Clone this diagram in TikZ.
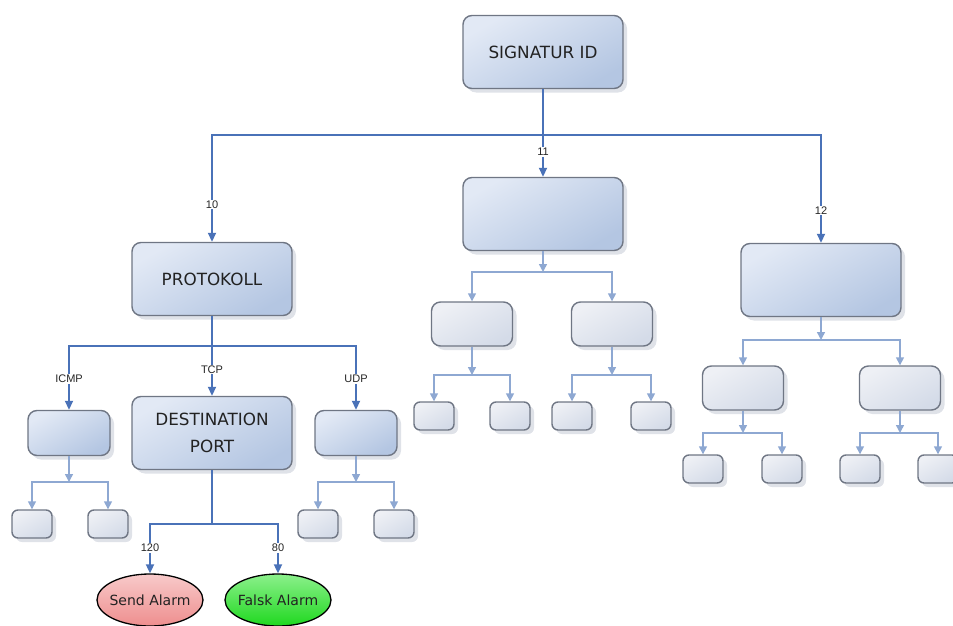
\documentclass[tikz,border=0pt]{standalone}
\usepackage{fontspec}
\setmainfont{DejaVu Sans}
\newfontfamily\lblfont{Liberation Sans}
\usetikzlibrary{arrows.meta,shapes.geometric,shadows}

\definecolor{linkdark}{HTML}{4A72B8}
\definecolor{linklight}{HTML}{8EA8D2}
\definecolor{boxedge}{HTML}{6F7684}
\definecolor{boxtop}{HTML}{E2E9F5}
\definecolor{boxbot}{HTML}{B4C6E2}
\definecolor{greytop}{HTML}{EEF0F5}
\definecolor{greybot}{HTML}{D4DBE8}
\definecolor{shadowc}{HTML}{C9CED9}
\definecolor{textgray}{HTML}{222222}
\definecolor{sendtop}{HTML}{F8CACA}
\definecolor{sendbot}{HTML}{EE8E8E}
\definecolor{falsktop}{HTML}{8CF08C}
\definecolor{falskbot}{HTML}{1FD81F}

\tikzset{
  box/.style = {rounded corners = 9pt, draw = boxedge, line width = 1.4pt,
    top color = boxtop, bottom color = boxbot, shading angle = 30,
    drop shadow = {shadow xshift = 4pt, shadow yshift = -4pt, fill = shadowc, opacity = .6},
    inner sep = 0pt, align = center, text = textgray,
    font = \fontsize{16.8}{27}\selectfont},
  bigbox/.style = {box, minimum width = 160pt, minimum height = 73pt},
  smallbox/.style = {box, minimum width = 82pt, minimum height = 45pt},
  greybox/.style = {box, top color = greytop, bottom color = greybot, shading angle = 30,
    minimum width = 81pt, minimum height = 44pt},
  leaf/.style = {greybox, rounded corners = 6pt, minimum width = 40pt, minimum height = 28pt},
  alarm/.style = {ellipse, draw = black, line width = 1.3pt, inner ysep = 0pt, inner xsep = -5pt,
    minimum width = 106pt, minimum height = 52pt, text = textgray,
    font = \fontsize{14}{16}\selectfont},
  darkline/.style = {draw = linkdark, line width = 1.8pt},
  darkarr/.style = {darkline, -{Triangle[length = 9pt, width = 8pt]}},
  lightarr/.style = {draw = linklight, line width = 1.5pt, -{Triangle[length = 8pt, width = 8pt]}},
  lbl/.style = {fill = white, inner sep = 1pt, text = black!85,
    font = \lblfont\fontsize{11}{13}\selectfont}
}

\begin{document}
\begin{tikzpicture}[x = 1pt, y = -1pt]
  \useasboundingbox (0,0) rectangle (953,626);

  % top level
  \node [bigbox] (sig) at (543,52) {SIGNATUR ID};
  \node [bigbox] (prot) at (212,279) {PROTOKOLL};
  \node [bigbox] (mid) at (543,214) {};
  \node [bigbox] (rgt) at (821,280) {};

  % protokoll branch
  \node [smallbox] (icmp) at (69,433) {};
  \node [bigbox] (dest) at (212,433) {DESTINATION\\PORT};
  \node [smallbox] (udp) at (356,433) {};
  \node [leaf] (icmpA) at (32,524) {};
  \node [leaf] (icmpB) at (108,524) {};
  \node [leaf] (udpA) at (318,524) {};
  \node [leaf] (udpB) at (394,524) {};
  \node [alarm, top color = sendtop, bottom color = sendbot] (send) at (150,600) {Send Alarm};
  \node [alarm, top color = falsktop, bottom color = falskbot] (falsk) at (278,600) {Falsk Alarm};

  % middle branch
  \node [greybox] (midA) at (472,324) {};
  \node [greybox] (midB) at (612,324) {};
  \node [leaf] (midAa) at (434,416) {};
  \node [leaf] (midAb) at (510,416) {};
  \node [leaf] (midBa) at (572,416) {};
  \node [leaf] (midBb) at (651,416) {};

  % right branch
  \node [greybox] (rgtA) at (743,388) {};
  \node [greybox] (rgtB) at (900,388) {};
  \node [leaf] (rgtAa) at (703,469) {};
  \node [leaf] (rgtAb) at (782,469) {};
  \node [leaf] (rgtBa) at (860,469) {};
  \node [leaf] (rgtBb) at (938,469) {};

  % junctions
  \coordinate (sigJ) at (543,135);
  \coordinate (protJ) at (212,346);
  \coordinate (destJ) at (212,524);
  \coordinate (icmpJ) at (69,482);
  \coordinate (udpJ) at (356,482);
  \coordinate (midJ) at (543,272);
  \coordinate (midAJ) at (472,375);
  \coordinate (midBJ) at (612,375);
  \coordinate (rgtJ) at (821,340);
  \coordinate (rgtAJ) at (743,433);
  \coordinate (rgtBJ) at (900,433);

  % dark connectors
  \draw [darkline] (sig) -- (sigJ);
  \draw [darkarr] (sigJ) -| node [lbl, pos = .825] {10} (prot);
  \draw [darkarr] (sigJ) -- node [lbl, pos = .4] {11} (mid);
  \draw [darkarr] (sigJ) -| node [lbl, pos = .85] {12} (rgt);
  \draw [darkline] (prot) -- (protJ);
  \draw [darkarr] (protJ) -| node [lbl, pos = .76] {ICMP} (icmp);
  \draw [darkarr] (protJ) -- node [lbl, pos = .47] {TCP} (dest);
  \draw [darkarr] (protJ) -| node [lbl, pos = .76] {UDP} (udp);
  \draw [darkline] (dest) -- (destJ);
  \draw [darkarr] (destJ) -| node [lbl, pos = .74] {120} (send);
  \draw [darkarr] (destJ) -| node [lbl, pos = .74] {80} (falsk);

  % light connectors
  \draw [lightarr] (icmp) -- (icmpJ);
  \draw [lightarr] (icmpJ) -| (icmpA);
  \draw [lightarr] (icmpJ) -| (icmpB);
  \draw [lightarr] (udp) -- (udpJ);
  \draw [lightarr] (udpJ) -| (udpA);
  \draw [lightarr] (udpJ) -| (udpB);
  \draw [lightarr] (mid) -- (midJ);
  \draw [lightarr] (midJ) -| (midA);
  \draw [lightarr] (midJ) -| (midB);
  \draw [lightarr] (midA) -- (midAJ);
  \draw [lightarr] (midAJ) -| (midAa);
  \draw [lightarr] (midAJ) -| (midAb);
  \draw [lightarr] (midB) -- (midBJ);
  \draw [lightarr] (midBJ) -| (midBa);
  \draw [lightarr] (midBJ) -| (midBb);
  \draw [lightarr] (rgt) -- (rgtJ);
  \draw [lightarr] (rgtJ) -| (rgtA);
  \draw [lightarr] (rgtJ) -| (rgtB);
  \draw [lightarr] (rgtA) -- (rgtAJ);
  \draw [lightarr] (rgtAJ) -| (rgtAa);
  \draw [lightarr] (rgtAJ) -| (rgtAb);
  \draw [lightarr] (rgtB) -- (rgtBJ);
  \draw [lightarr] (rgtBJ) -| (rgtBa);
  \draw [lightarr] (rgtBJ) -| (rgtBb);
\end{tikzpicture}
\end{document}
